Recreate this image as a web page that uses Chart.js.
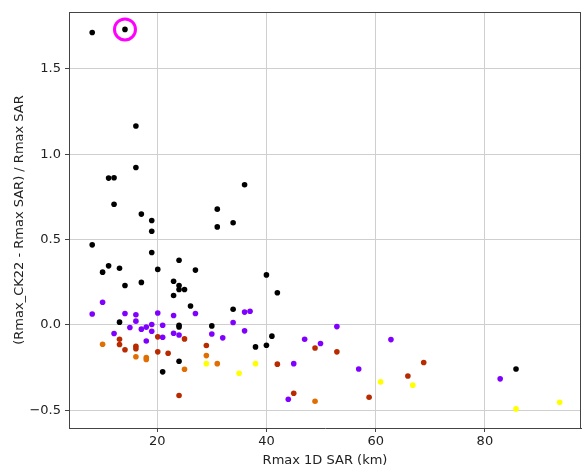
<!DOCTYPE html>
<html>
<head>
<meta charset="utf-8">
<script src="https://cdn.jsdelivr.net/npm/chart.js@4/dist/chart.umd.min.js"></script>
<style>
  body { margin: 0; background: #fff; }
  #wrap { width: 582px; height: 472px; }
</style>
</head>
<body>
<div id="wrap"><canvas id="chart" width="582" height="472"></canvas></div>
<script>
// values, grouped by marker colour
const blackX = [8.1, 14.1, 16.1, 16.1, 11.1, 12.1, 12.1, 36.0, 17.1, 19.0, 19.0, 31.0, 31.0, 33.9, 8.1, 19.0, 24.0, 11.1, 13.1, 10.0, 20.1, 27.0, 23.0, 17.1, 14.1, 24.0, 24.0, 25.0, 23.0, 26.1, 33.9, 40.0, 42.0, 13.1, 24.0, 24.0, 30.0, 38.0, 24.0, 21.0, 40.0, 41.0, 85.7];
const blackY = [1.713, 1.731, 1.165, 0.922, 0.86, 0.862, 0.707, 0.821, 0.649, 0.612, 0.549, 0.678, 0.574, 0.598, 0.469, 0.424, 0.379, 0.346, 0.332, 0.309, 0.325, 0.321, 0.256, 0.249, 0.231, 0.231, 0.207, 0.207, 0.172, 0.111, 0.092, 0.293, 0.188, 0.016, -0.012, -0.002, -0.006, -0.129, -0.213, -0.275, -0.119, -0.066, -0.258];

const purpleX = [8.1, 10.0, 14.1, 16.1, 16.1, 12.1, 15.0, 17.1, 18.0, 19.0, 19.0, 18.0, 20.1, 21.0, 21.0, 23.0, 23.0, 24.0, 27.0, 30.0, 32.0, 33.9, 36.0, 37.0, 36.0, 45.0, 44.0, 47.0, 49.9, 52.9, 56.9, 62.8, 82.8];
const purpleY = [0.064, 0.133, 0.067, 0.059, 0.022, -0.05, -0.015, -0.025, -0.013, 0.002, -0.037, -0.094, 0.07, -0.002, -0.072, 0.055, -0.049, -0.059, 0.067, -0.053, -0.076, 0.014, 0.075, 0.08, -0.035, -0.227, -0.436, -0.084, -0.109, -0.01, -0.258, -0.086, -0.316];

const redX = [13.1, 13.1, 14.1, 16.1, 16.1, 20.1, 20.1, 22.0, 25.0, 24.0, 29.0, 42.0, 45.0, 48.9, 52.9, 58.8, 65.9, 68.8];
const redY = [-0.084, -0.115, -0.146, -0.125, -0.14, -0.07, -0.158, -0.166, -0.082, -0.414, -0.121, -0.23, -0.4, -0.135, -0.158, -0.424, -0.299, -0.22];

const orangeX = [10.0, 16.1, 18.0, 18.0, 25.0, 29.0, 31.0, 48.9];
const orangeY = [-0.113, -0.187, -0.191, -0.203, -0.26, -0.18, -0.227, -0.447];

const yellowX = [29.0, 35.0, 38.0, 60.9, 66.8, 85.7, 93.7];
const yellowY = [-0.227, -0.283, -0.227, -0.334, -0.353, -0.492, -0.453];

// highlighted case
const markedX = [14.1];
const markedY = [1.731];

const xTicks = [20, 40, 60, 80];
const yTicks = [-0.5, 0, 0.5, 1.0, 1.5];

const pts = (xs, ys) => xs.map((x, i) => ({ x: x, y: ys[i] }));
const dot = (label, xs, ys, color) => ({
  label: label,
  data: pts(xs, ys),
  backgroundColor: color,
  borderWidth: 0,
  pointRadius: 2.8
});

// top and right spines
const frame = {
  id: 'frame',
  beforeDatasetsDraw(chart) {
    const a = chart.chartArea;
    const ctx = chart.ctx;
    ctx.save();
    ctx.strokeStyle = '#444';
    ctx.lineWidth = 1;
    ctx.beginPath();
    ctx.moveTo(a.left, a.top + 0.5);
    ctx.lineTo(a.right, a.top + 0.5);
    ctx.moveTo(a.right - 0.5, a.top);
    ctx.lineTo(a.right - 0.5, a.bottom);
    ctx.stroke();
    ctx.restore();
  }
};

const font = { family: 'DejaVu Sans', size: 13 };

new Chart(document.getElementById('chart'), {
  type: 'scatter',
  data: {
    datasets: [
      {
        label: 'marked',
        data: pts(markedX, markedY),
        backgroundColor: 'rgba(0,0,0,0)',
        borderColor: '#ff00ff',
        borderWidth: 3,
        pointRadius: 10.5
      },
      dot('black', blackX, blackY, '#000000'),
      dot('purple', purpleX, purpleY, '#8000ff'),
      dot('red', redX, redY, '#b82a00'),
      dot('orange', orangeX, orangeY, '#e06e00'),
      dot('yellow', yellowX, yellowY, '#ffff00')
    ]
  },
  options: {
    responsive: false,
    animation: false,
    layout: { autoPadding: false, padding: { top: 12, right: 1, left: 0, bottom: 0 } },
    plugins: {
      legend: { display: false },
      tooltip: { enabled: false }
    },
    scales: {
      x: {
        type: 'linear',
        min: 3.85,
        max: 97.6,
        afterBuildTicks: s => { s.ticks = xTicks.map(v => ({ value: v })); },
        afterFit: s => { s.height = 44; s.paddingLeft = 0; s.paddingRight = 0; },
        ticks: { font: font, color: '#222', padding: 2, callback: v => String(v) },
        grid: { color: '#cfcfcf', tickColor: '#444', tickLength: 4 },
        border: { color: '#444', width: 1 },
        title: { display: true, text: 'Rmax 1D SAR (km)', font: font, color: '#222', padding: { top: 0, bottom: 4 } }
      },
      y: {
        type: 'linear',
        min: -0.604,
        max: 1.833,
        afterBuildTicks: s => { s.ticks = yTicks.map(v => ({ value: v })); },
        afterFit: s => { s.width = 69; s.paddingTop = 0; s.paddingBottom = 0; },
        ticks: { font: font, color: '#222', padding: 4, callback: v => v.toFixed(1).replace('-', '\u2212') },
        grid: { color: '#cfcfcf', tickColor: '#444', tickLength: 4 },
        border: { color: '#444', width: 1 },
        title: { display: true, text: '(Rmax_CK22 - Rmax SAR) / Rmax SAR', font: font, color: '#222', padding: { top: 12, bottom: 0 } }
      }
    }
  },
  plugins: [frame]
});
</script>
</body>
</html>
